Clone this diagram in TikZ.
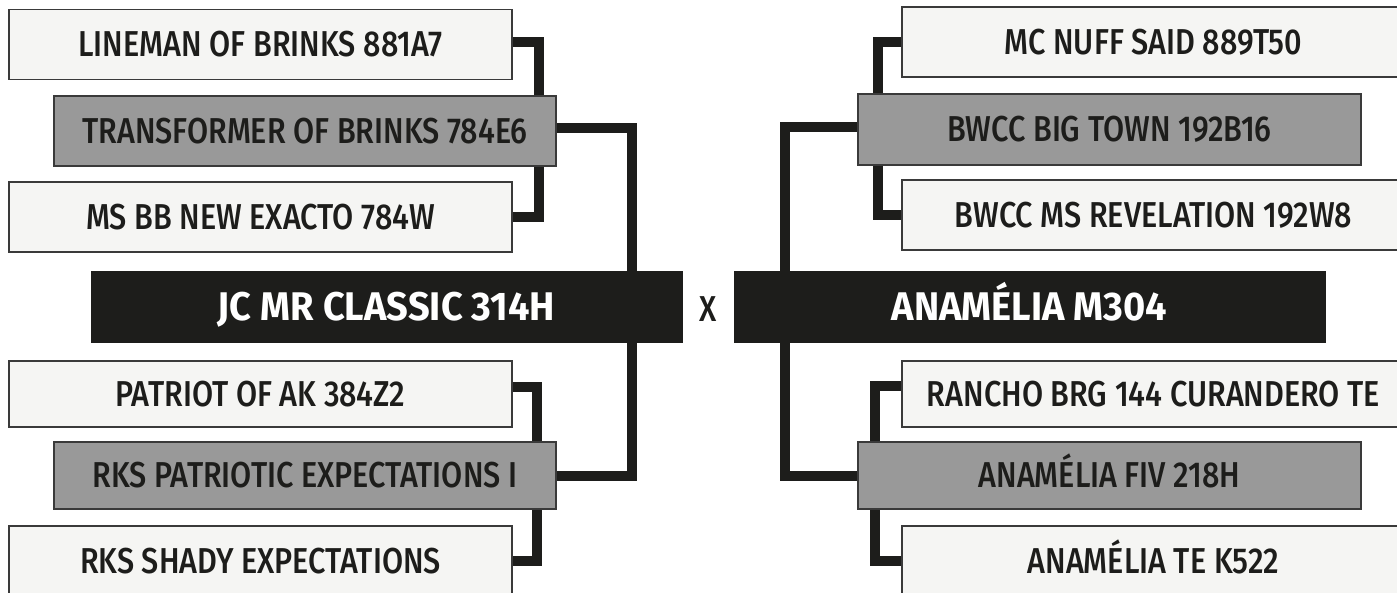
\documentclass[tikz,border=0pt]{standalone}
\usepackage{fontspec}
\setmainfont{Fira Sans Medium}[FakeStretch=0.85]
\newfontfamily\titlefont{Fira Sans}[FakeStretch=0.95]
\usetikzlibrary{backgrounds}
\definecolor{ink}{HTML}{1D1D1B}
\definecolor{lightfill}{HTML}{F5F5F3}
\definecolor{midfill}{HTML}{999999}
\definecolor{edge}{HTML}{3A3A3A}
\tikzset{
  box/.style={draw=edge, line width=1.2pt, inner sep=0pt, font=\fontsize{36}{40}\selectfont, text=ink, text height=24.8pt, text depth=0pt},
  lightbox/.style={box, fill=lightfill, minimum width=503, minimum height=70},
  midbox/.style={box, fill=midfill, minimum width=502, minimum height=70},
  mainbox/.style={fill=ink, draw=ink, inner sep=0pt, text=white, font=\titlefont\fontsize{40}{44}\selectfont\bfseries, text height=27.6pt, text depth=0pt, minimum width=591, minimum height=71},
  conn/.style={draw=ink, line width=10pt, line join=miter}
}
\begin{document}
\begin{tikzpicture}[x=1pt, y=-1pt]
\useasboundingbox (0,0) rectangle (1397,593);
% left tree
\node[lightbox] (lin) at (260.5,44.5) {LINEMAN OF BRINKS 881A7};
\node[midbox] (trans) at (305,131) {TRANSFORMER OF BRINKS 784E6};
\node[lightbox] (msbb) at (260.5,217) {MS BB NEW EXACTO 784W};
\node[mainbox] (jc) at (386.5,307) {JC MR CLASSIC 314H};
\node[lightbox, minimum height=66] (pat) at (260.5,394) {PATRIOT OF AK 384Z2};
\node[midbox, minimum height=67] (rksp) at (305,475.5) {RKS PATRIOTIC EXPECTATIONS I};
\node[lightbox] (shady) at (260.5,561) {RKS SHADY EXPECTATIONS};
% right tree
\node[lightbox] (mc) at (1153.5,42) {MC NUFF SAID 889T50};
\node[midbox, minimum width=503, minimum height=71] (big) at (1109.5,129.5) {BWCC BIG TOWN 192B16};
\node[lightbox] (rev) at (1153.5,215) {BWCC MS REVELATION 192W8};
\node[mainbox] (m304) at (1029.5,307) {ANAMÉLIA M304};
\node[lightbox, minimum height=66] (ran) at (1153.5,394) {RANCHO BRG 144 CURANDERO TE};
\node[midbox, minimum width=503, minimum height=67] (fiv) at (1109.5,475.5) {ANAMÉLIA FIV 218H};
\node[lightbox] (tek) at (1153.5,561) {ANAMÉLIA TE K522};
\node[text=ink, font=\fontsize{36}{40}\selectfont, inner sep=0pt, text height=24.8pt, text depth=0pt] (x) at (708,309) {X};
% connectors
\begin{scope}[on background layer]
\draw[conn] ([yshift=2]lin.east) -| ([xshift=-18]trans.north east);
\draw[conn] ([xshift=-18]trans.south east) |- (msbb.east);
\draw[conn] ([yshift=3]trans.east) -| ([xshift=-50]jc.north east);
\draw[conn] ([xshift=-50]jc.south east) |- (rksp.east);
\draw[conn] ([yshift=7]pat.east) -| ([xshift=-20]rksp.north east);
\draw[conn] ([xshift=-20]rksp.south east) |- (shady.east);
\draw[conn] (mc.west) -| ([xshift=21]big.north west);
\draw[conn] ([xshift=21]big.south west) |- (rev.west);
\draw[conn] ([yshift=2.5]big.west) -| ([xshift=51]m304.north west);
\draw[conn] ([xshift=51]m304.south west) |- (fiv.west);
\draw[conn] ([yshift=8]ran.west) -| ([xshift=18]fiv.north west);
\draw[conn] ([xshift=18]fiv.south west) |- (tek.west);
\end{scope}
\end{tikzpicture}
\end{document}
